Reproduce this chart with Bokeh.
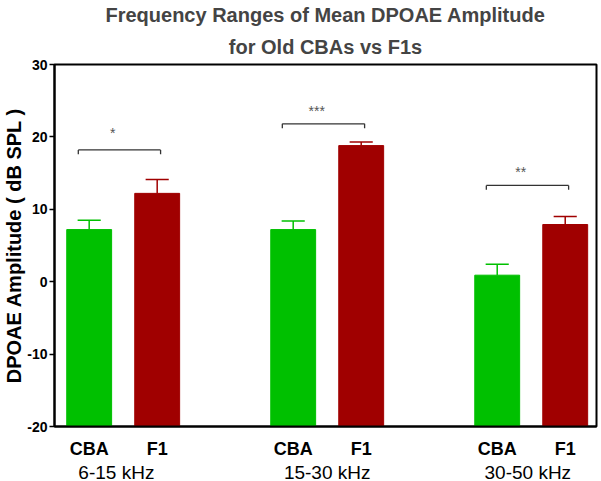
from bokeh.plotting import figure
from bokeh.models import Range1d, FixedTicker, LinearAxis, ColumnDataSource, Title
from bokeh.core.properties import value
from bokeh.embed import file_html
from bokeh.resources import INLINE

# ---- data ----
bar_pos = [0, 1, 3, 4, 6, 7]
bar_labels = ["CBA", "F1", "CBA", "F1", "CBA", "F1"]
means = [7.2, 12.2, 7.2, 18.8, 0.9, 7.9]
errors = [1.3, 1.9, 1.2, 0.5, 1.5, 1.1]
groups = ["6-15 kHz", "15-30 kHz", "30-50 kHz"]
group_pos = [0.4, 3.5, 6.45]
sig_labels = ["*", "***", "**"]
sig_left = [0, 3, 6]
sig_right = [1, 4, 7]
bracket_y = [18.2, 21.8, 13.3]
star_y = [20.6, 23.6, 15.2]
y_ticks = [-20, -10, 0, 10, 20, 30]
y_tick_labels = ["-20", "-10", "0", "10", "20", "30"]
title_lines = ["Frequency Ranges of Mean DPOAE Amplitude", "for Old CBAs vs F1s"]

GREEN = "#00c000"
RED = "#a00000"
colors = [GREEN if l == "CBA" else RED for l in bar_labels]
FONT = "Liberation Sans"

p = figure(frame_width=542, frame_height=362, output_backend="svg", toolbar_location=None,
           x_range=Range1d(-0.51, 7.46), y_range=Range1d(-20, 30),
           min_border_left=48, min_border_right=3, min_border_top=0, min_border_bottom=0)

# titles: add the second line first (closest to the frame)
title_standoffs = [2, 14]
for txt, so in reversed(list(zip(title_lines, title_standoffs))):
    t = Title(text=txt, align="center", text_font=FONT, text_font_size="20px",
              text_font_style="bold", standoff=so, offset=0)
    p.add_layout(t, "above")

p.grid.visible = False
p.outline_line_color = "black"
p.outline_line_width = 2
p.background_fill_color = "white"
p.border_fill_color = "white"

src = ColumnDataSource(dict(x=bar_pos, top=means, c=colors,
                            etop=[m + e for m, e in zip(means, errors)]))
p.vbar(x="x", top="top", bottom=-20, width=0.66, fill_color="c", line_color="c", source=src)
p.segment(x0="x", y0="top", x1="x", y1="etop", line_color="c", line_width=1.5, source=src)
src_cap = ColumnDataSource(dict(x0=[x - 0.17 for x in bar_pos], x1=[x + 0.17 for x in bar_pos],
                                y=src.data["etop"], c=colors))
p.segment(x0="x0", y0="y", x1="x1", y1="y", line_color="c", line_width=1.5, source=src_cap)

# significance brackets
bl = [l - 0.16 for l in sig_left]
br = [r + 0.05 for r in sig_right]
p.segment(x0=bl, y0=bracket_y, x1=br, y1=bracket_y, line_color="#333333", line_width=1.3)
p.segment(x0=bl, y0=bracket_y, x1=bl, y1=[y - 0.6 for y in bracket_y], line_color="#333333", line_width=1.3)
p.segment(x0=br, y0=bracket_y, x1=br, y1=[y - 0.6 for y in bracket_y], line_color="#333333", line_width=1.3)
p.text(x=[(l + r) / 2 - 0.1 for l, r in zip(bl, br)], y=star_y, text=sig_labels,
       text_font=value(FONT), text_font_size="14px", text_color="#555555",
       text_align="center", text_baseline="middle")

# y axis
ya = p.yaxis[0]
ya.ticker = FixedTicker(ticks=y_ticks)
ya.major_label_overrides = {t: l for t, l in zip(y_ticks, y_tick_labels)}
ya.minor_tick_line_color = None
ya.axis_line_width = 2
ya.major_tick_line_width = 1.5
ya.major_tick_in = 0
ya.major_tick_out = 5
ya.major_label_text_font = FONT
ya.major_label_text_font_style = "bold"
ya.major_label_text_font_size = "14px"
ya.major_label_text_color = "black"
ya.major_label_standoff = 2
ya.axis_label = "DPOAE Amplitude ( dB SPL )"
ya.axis_label_text_font = FONT
ya.axis_label_text_font_style = "bold"
ya.axis_label_text_font_size = "20px"
ya.axis_label_text_color = "black"
ya.axis_label_standoff = -1

# x axis: bar labels
xa = p.xaxis[0]
xa.ticker = FixedTicker(ticks=bar_pos)
xa.major_label_overrides = {x: l for x, l in zip(bar_pos, bar_labels)}
xa.major_tick_line_color = None
xa.minor_tick_line_color = None
xa.axis_line_width = 2
xa.major_label_text_font = FONT
xa.major_label_text_font_style = "bold"
xa.major_label_text_font_size = "18px"
xa.major_label_text_color = "black"
xa.major_label_standoff = 6

# second x axis: group labels
ga = LinearAxis(ticker=FixedTicker(ticks=group_pos),
                major_label_overrides={x: l for x, l in zip(group_pos, groups)})
ga.axis_line_color = None
ga.major_tick_line_color = None
ga.minor_tick_line_color = None
ga.major_label_text_font = FONT
ga.major_label_text_font_size = "19px"
ga.major_label_text_color = "black"
ga.major_label_standoff = -6
p.add_layout(ga, "below")

open("out.html", "w").write(file_html(p, INLINE))
